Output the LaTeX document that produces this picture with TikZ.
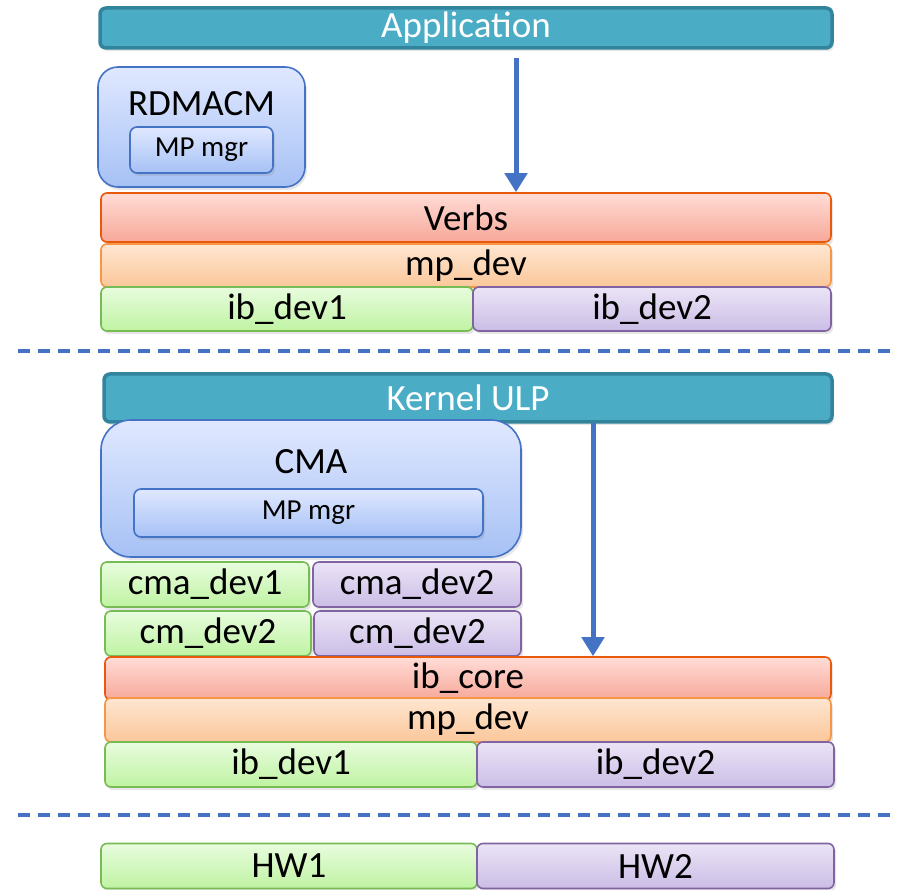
\documentclass[tikz,border=0pt]{standalone}
\usepackage{fontspec}
\setmainfont{Carlito}
\usetikzlibrary{arrows.meta,shadows}
\definecolor{tealfill}{HTML}{4BACC6}
\definecolor{tealline}{HTML}{31849B}
\definecolor{bluetop}{HTML}{E0E8FF}
\definecolor{bluebot}{HTML}{A6C1F5}
\definecolor{blueline}{HTML}{4472C4}
\definecolor{redtop}{HTML}{FFDCD6}
\definecolor{redbot}{HTML}{F7A899}
\definecolor{redline}{HTML}{E8590C}
\definecolor{orgtop}{HTML}{FEE6D1}
\definecolor{orgbot}{HTML}{FBC79A}
\definecolor{orgline}{HTML}{F79646}
\definecolor{grntop}{HTML}{E8FCDE}
\definecolor{grnbot}{HTML}{BFF3A2}
\definecolor{grnline}{HTML}{77BB55}
\definecolor{purtop}{HTML}{EBE4F6}
\definecolor{purbot}{HTML}{CBBDE6}
\definecolor{purline}{HTML}{8064A2}
\begin{document}
\begin{tikzpicture}[
    x=1pt, y=-1pt,
    layer/.style={
      draw,
      line width=1.6pt,
      rounded corners=6pt,
      inner sep=0pt,
      font=\fontsize{37}{37}\selectfont,
      drop shadow={opacity=0.2, shadow xshift=2pt, shadow yshift=-3pt}
    },
    tealbar/.style={layer, draw=tealline, line width=3.5pt, fill=tealfill,
      text=white, minimum height=40pt},
    bluebox/.style={layer, draw=blueline, top color=bluetop, bottom color=bluebot},
    mgrbox/.style={bluebox, rounded corners=7pt, font=\fontsize{29}{29}\selectfont},
    redbar/.style={layer, draw=redline, top color=redtop, bottom color=redbot},
    orgbar/.style={layer, draw=orgline, top color=orgtop, bottom color=orgbot},
    grnbar/.style={layer, draw=grnline, top color=grntop, bottom color=grnbot},
    purbar/.style={layer, draw=purline, top color=purtop, bottom color=purbot},
    flow/.style={draw=blueline, line width=5pt,
      -{Triangle[width=22pt,length=19pt]}},
    divider/.style={draw=blueline, line width=4pt, dash pattern=on 12pt off 8pt}
  ]
  \useasboundingbox (0,0) rectangle (900,890);

  % user space
  \node[tealbar, minimum width=732pt] (app) at (466,28) {Application};
  \node[bluebox, rounded corners=20pt, minimum width=207pt, minimum height=120pt]
    (rdmacm) at (201.5,127) {};
  \node[font=\fontsize{37}{37}\selectfont] (rdmacmtxt) at (201.5,104) {RDMACM};
  \node[mgrbox, minimum width=143pt, minimum height=46pt] (umgr) at (201.5,150) {MP mgr};
  \node[redbar, minimum width=730pt, minimum height=49pt] (verbs) at (466,217.5) {Verbs};
  \node[orgbar, minimum width=730pt, minimum height=43pt] (umpdev) at (466,265.5) {mp\_dev};
  \node[grnbar, minimum width=372pt, minimum height=44pt] (uib1) at (287,309) {ib\_dev1};
  \node[purbar, minimum width=358pt, minimum height=44pt] (uib2) at (652,309) {ib\_dev2};

  \coordinate (ua) at (516,58);
  \draw[flow] (ua) -- (ua |- verbs.north);

  \coordinate (d1a) at (18,351);
  \coordinate (d1b) at (897,351);
  \draw[divider] (d1a) -- (d1b);

  % kernel space
  \node[tealbar, minimum width=728pt, minimum height=48pt] (ulp) at (468,398) {Kernel ULP};
  \node[bluebox, rounded corners=30pt, minimum width=420pt, minimum height=137pt]
    (cma) at (311,488.5) {};
  \node[font=\fontsize{37}{37}\selectfont] (cmatxt) at (311,462) {CMA};
  \node[mgrbox, minimum width=349pt, minimum height=48pt] (kmgr) at (308.5,513) {MP mgr};
  \node[grnbar, minimum width=208pt, minimum height=45pt] (cma1) at (205,584.5) {cma\_dev1};
  \node[purbar, minimum width=208pt, minimum height=45pt] (cma2) at (417,584.5) {cma\_dev2};
  \node[grnbar, minimum width=206pt, minimum height=45pt] (cm1) at (208,633.5) {cm\_dev2};
  \node[purbar, minimum width=207pt, minimum height=45pt] (cm2) at (417.5,633.5) {cm\_dev2};
  \node[redbar, minimum width=726pt, minimum height=43pt] (ibcore) at (468,678.5) {ib\_core};
  \node[orgbar, minimum width=726pt, minimum height=44pt] (kmpdev) at (468,720) {mp\_dev};
  \node[grnbar, minimum width=372pt, minimum height=45pt] (kib1) at (291,764.5) {ib\_dev1};
  \node[purbar, minimum width=357pt, minimum height=45pt] (kib2) at (655.5,764.5) {ib\_dev2};

  \coordinate (ka) at (593,423);
  \draw[flow] (ka) -- (ka |- ibcore.north);

  \coordinate (d2a) at (18,815);
  \coordinate (d2b) at (897,815);
  \draw[divider] (d2a) -- (d2b);

  % hardware
  \node[grnbar, minimum width=376pt, minimum height=45pt] (hw1) at (289,866) {HW1};
  \node[purbar, minimum width=357pt, minimum height=45pt] (hw2) at (655.5,866) {HW2};
\end{tikzpicture}
\end{document}
